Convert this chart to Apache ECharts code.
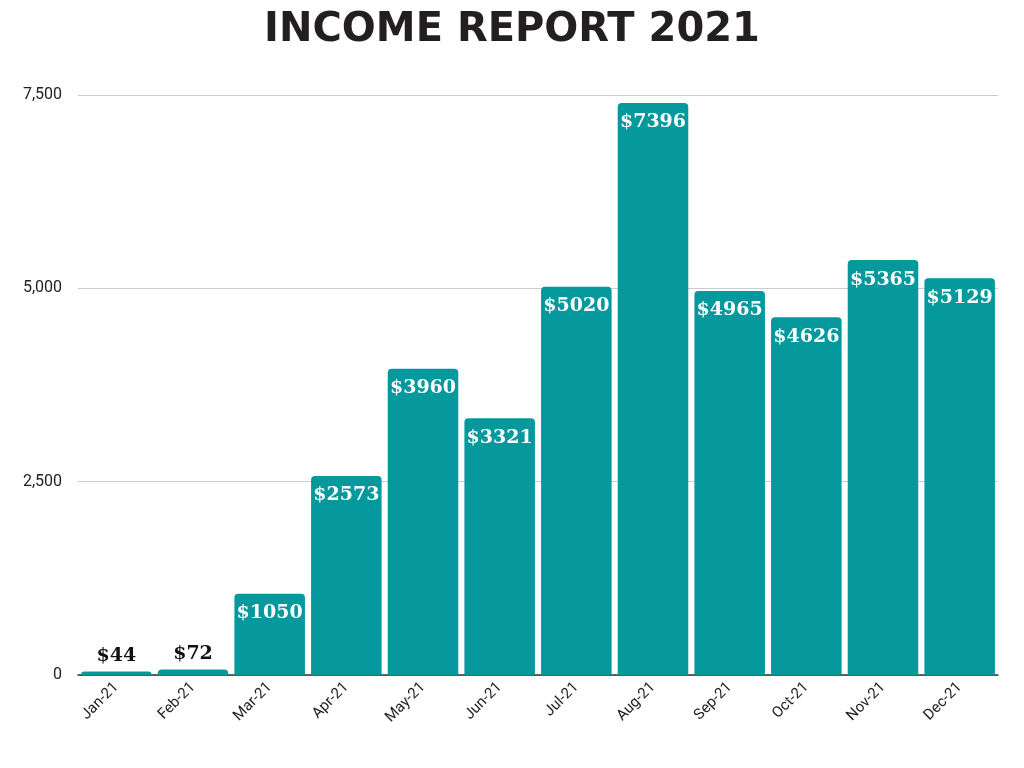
<!DOCTYPE html>
<html><head><meta charset="utf-8">
<script src="https://cdn.jsdelivr.net/npm/echarts@6/dist/echarts.min.js"></script>
<style>html,body{margin:0;padding:0;background:#fff}#c{width:1024px;height:768px}</style>
</head><body><div id="c"></div>
<script>
const categories = ["Jan-21","Feb-21","Mar-21","Apr-21","May-21","Jun-21","Jul-21","Aug-21","Sep-21","Oct-21","Nov-21","Dec-21"];
const income = [44,72,1050,2573,3960,3321,5020,7396,4965,4626,5365,5129];
const yTicks = [0,2500,5000,7500];
const chart = echarts.init(document.getElementById('c'));
chart.setOption({
  animation:false,
  title:{text:'INCOME REPORT 2021',left:'center',top:6,textStyle:{fontSize:40,fontWeight:'bold',fontFamily:'DejaVu Sans',color:'#231f20'}},
  grid:{left:78,right:26,top:95,bottom:93},
  xAxis:{type:'category',data:categories,axisTick:{show:false},
    axisLine:{lineStyle:{color:'#333',width:1.5}},
    axisLabel:{rotate:45,color:'#222',fontSize:15,fontFamily:'Roboto',margin:10}},
  yAxis:{type:'value',min:0,max:7500,interval:2500,
    axisLabel:{color:'#222',fontSize:16,fontFamily:'Roboto',margin:16,formatter:v=>yTicks.includes(v)?v.toLocaleString('en-US'):''},
    splitLine:{lineStyle:{color:'#ccc'}}},
  series:[{type:'bar',data:income.map(v=>({value:v,label:v<500?{position:'top',color:'#111',distance:6}:{}})),
    barCategoryGap:'8%',itemStyle:{color:'#05999e',borderRadius:[4,4,0,0]},
    label:{show:true,position:'insideTop',distance:10,color:'#fff',fontSize:19,fontWeight:'bold',fontFamily:'DejaVu Serif',formatter:p=>'$'+p.value}}]
});
</script></body></html>
